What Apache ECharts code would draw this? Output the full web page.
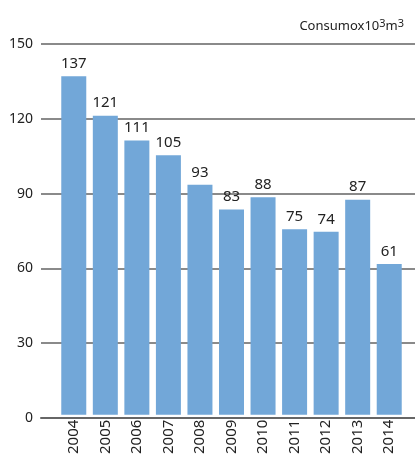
<!DOCTYPE html>
<html>
<head>
<meta charset="utf-8">
<script src="https://cdn.jsdelivr.net/npm/echarts@6/dist/echarts.min.js"></script>
<style>
  html, body { margin: 0; padding: 0; background: #fff; }
  #main { width: 415px; height: 457px; }
</style>
</head>
<body>
<div id="main"></div>
<script>
const years = ['2004', '2005', '2006', '2007', '2008', '2009', '2010', '2011', '2012', '2013', '2014'];
const consumo = [137, 121, 111, 105, 93, 83, 88, 75, 74, 87, 61];
const yTicks = { min: 0, max: 150, interval: 30 };

const chart = echarts.init(document.getElementById('main'));
const font = '"Noto Sans", sans-serif';

chart.setOption({
  animation: false,
  title: {
    text: 'Consumox10{s|3}m{s|3}',
    right: 6,
    top: 13,
    textStyle: {
      fontFamily: font,
      fontSize: 13,
      fontWeight: 'normal',
      color: '#222',
      rich: {
        s: { fontFamily: font, fontSize: 11, color: '#222', verticalAlign: 'top', padding: [0, 0, 6, 0] }
      }
    }
  },
  grid: [
    { left: 41, right: 0, top: 44, bottom: 39 },
    { left: 58, right: 10, top: 44, bottom: 39 }
  ],
  xAxis: [
    {
      gridIndex: 0,
      type: 'category',
      data: years,
      axisLine: { lineStyle: { color: '#666', width: 2 } },
      axisTick: { show: false },
      axisLabel: { show: false }
    },
    {
      gridIndex: 1,
      type: 'category',
      data: years,
      axisLine: { show: false },
      axisTick: { show: false },
      axisLabel: {
        rotate: 90,
        margin: 5,
        fontFamily: font,
        fontSize: 15,
        color: '#222'
      }
    }
  ],
  yAxis: [
    {
      gridIndex: 0,
      type: 'value',
      min: yTicks.min,
      max: yTicks.max,
      interval: yTicks.interval,
      axisLine: { show: false },
      axisTick: { show: false },
      splitLine: { lineStyle: { color: '#8a8a8a', width: 2 } },
      axisLabel: {
        margin: 8,
        fontFamily: font,
        fontSize: 14,
        color: '#222'
      }
    },
    {
      gridIndex: 1,
      type: 'value',
      min: yTicks.min,
      max: yTicks.max,
      interval: yTicks.interval,
      show: false
    }
  ],
  series: [
    {
      type: 'bar',
      xAxisIndex: 1,
      yAxisIndex: 1,
      data: consumo,
      barWidth: 25,
      itemStyle: { color: '#72a7d8' },
      label: {
        show: true,
        position: 'top',
        distance: 5,
        fontFamily: font,
        fontSize: 15,
        color: '#222'
      }
    }
  ]
});
</script>
</body>
</html>
